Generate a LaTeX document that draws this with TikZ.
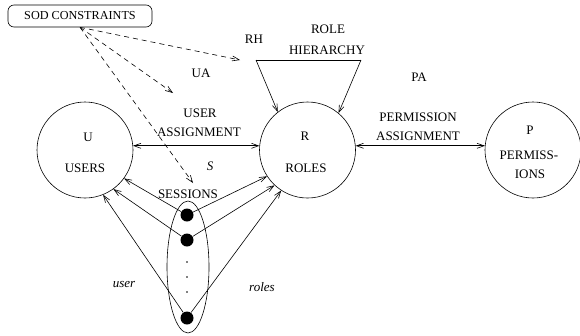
\documentclass[tikz,border=0pt]{standalone}
\usepackage{fontspec}
\setmainfont{Liberation Serif}
\usetikzlibrary{arrows.meta,shapes.geometric}
\begin{document}
\begin{tikzpicture}[x=1pt,y=-1pt,line width=0.6pt,
  every node/.style={font=\fontsize{13}{15}\selectfont, inner sep=0pt},
  big/.style={circle, draw, minimum size=96pt},
  sdot/.style={circle, fill, minimum size=13pt},
  tdot/.style={circle, fill, minimum size=1.6pt},
  arr/.style={-{Straight Barb[length=7pt,width=5pt]}},
  darr/.style={{Straight Barb[length=7pt,width=5pt]}-{Straight Barb[length=7pt,width=5pt]}},
  sodline/.style={dashed, dash pattern=on 5pt off 4pt, -{Straight Barb[length=7pt,width=5pt]}},
  lab/.style={}]
\useasboundingbox (0,0) rectangle (580,335);

% SOD box
\node[draw, rounded corners=6pt, minimum width=144pt, minimum height=22pt,
      font=\fontsize{12.2}{14}\selectfont] (sod) at (80,16) {SOD CONSTRAINTS};

% circles
\node[big] (U) at (85,150) {};
\node[big] (R) at (307.5,150) {};
\node[big] (P) at (533,150) {};

\node (Ul) at (88,137) {U};
\node (Us) at (85,168) {USERS};
\node (Rl) at (305,136) {R};
\node (Rs) at (306,168) {ROLES};
\node (Pl) at (530,130) {P};
\node (Pp1) at (529,155) {PERMISS-};
\node (Pp2) at (530,174) {IONS};

% labels
\node (ua) at (201,73) {UA};
\node (ua1) at (200,113) {USER};
\node (ua2) at (199,132) {ASSIGNMENT};
\node (rh) at (254,39) {RH};
\node (rh1) at (328,29) {ROLE};
\node (rh2) at (327,50) {HIERARCHY};
\node (pa) at (419,77) {PA};
\node (pa1) at (418,117) {PERMISSION};
\node (pa2) at (418,136) {ASSIGNMENT};
\node (s) at (210,166) {\itshape S};
\node (ses) at (188,194) {SESSIONS};
\node (usr) at (124,285) {\itshape user};
\node (rls) at (262,287) {\itshape roles};

% sessions ellipse and dots
\node[ellipse, draw, minimum width=42pt, minimum height=132pt] (E) at (188,267) {};
\node[sdot] (s1) at (187,215) {};
\node[sdot] (s2) at (187,240) {};
\node[sdot] (s3) at (187,318) {};
\node[tdot] (t1) at (187,262) {};
\node[tdot] (t2) at (187,277) {};
\node[tdot] (t3) at (187,292) {};

% assignments
\draw[darr] (U.5) -- (R.175);
\draw[darr] (R.5) -- (P.175);

% role hierarchy
\coordinate (h1) at (256,60);
\coordinate (h2) at (361,60);
\draw (h1) -- (h2);
\draw[arr] (h1) -- (R.128);
\draw[arr] (h2) -- (R.50);

% SOD dashed arrows
\coordinate (e1) at (240,60);
\coordinate (e2) at (173,93);
\coordinate (e3) at (193,183);
\draw[sodline] (sod.south) -- (e1);
\draw[sodline] (sod.south) -- (e2);
\draw[sodline] (sod.south) -- (e3);

% session arrows
\draw[arr] (s1) -- (U.-36);
\draw[arr] (s2) -- (U.-54);
\draw[arr] (s3) -- (U.-68);
\draw[arr] (s1) -- (R.-147);
\draw[arr] (s2) -- (R.-133);
\draw[arr] (s3) -- (R.-123);
\end{tikzpicture}
\end{document}
